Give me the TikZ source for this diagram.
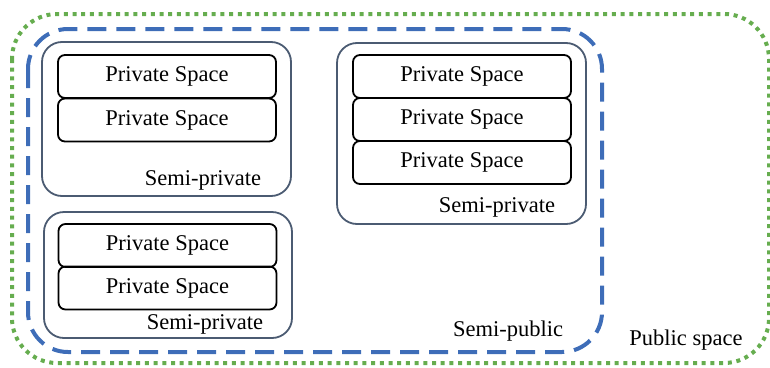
\documentclass[tikz,border=0pt]{standalone}
\usepackage{fontspec}
\setmainfont{Liberation Serif}
\definecolor{pubgreen}{HTML}{66AD4F}
\definecolor{semiblue}{HTML}{3E6DB8}
\definecolor{slate}{HTML}{4B5B72}
\tikzset{
  privbox/.style={draw=black,line width=1.8pt,rounded corners=7pt,minimum width=218pt,minimum height=43pt,inner sep=0pt,text depth=4pt},
  lbl/.style={inner sep=0pt,yshift=-2pt}
}
\begin{document}
\begin{tikzpicture}[x=1pt,y=-1pt,font=\fontsize{22.5}{26}\selectfont]
\useasboundingbox (0,0) rectangle (770,367);

% public space
\draw[pubgreen,line width=4pt,dash pattern=on 4pt off 4.7pt,rounded corners=45pt] (12,14) rectangle (769,363);
% semi-public
\draw[semiblue,line width=4pt,dash pattern=on 19pt off 10pt,rounded corners=40pt] (28,29) rectangle (602,352);

% semi-private groups
\draw[slate,line width=1.8pt,rounded corners=20pt] (42,42) rectangle (291,196);
\draw[slate,line width=1.8pt,rounded corners=20pt] (44,212) rectangle (292,338);
\draw[slate,line width=1.8pt,rounded corners=20pt] (337,43) rectangle (586,224);

% private spaces
\node[privbox] (pa1) at (167,76.5) {Private Space};
\node[privbox] (pa2) at (167,120) {Private Space};
\node[privbox] (pb1) at (167.5,245.5) {Private Space};
\node[privbox] (pb2) at (167.5,288) {Private Space};
\node[privbox] (pc1) at (462,76.5) {Private Space};
\node[privbox] (pc2) at (462,119.5) {Private Space};
\node[privbox] (pc3) at (462,162.5) {Private Space};

\node[lbl] (spa) at (203,178) {Semi-private};
\node[lbl] (spb) at (205,322) {Semi-private};
\node[lbl] (spc) at (497,205) {Semi-private};
\node[lbl] (spub) at (508,329) {Semi-public};
\node[lbl] (pub) at (686,338) {Public space};
\end{tikzpicture}
\end{document}
